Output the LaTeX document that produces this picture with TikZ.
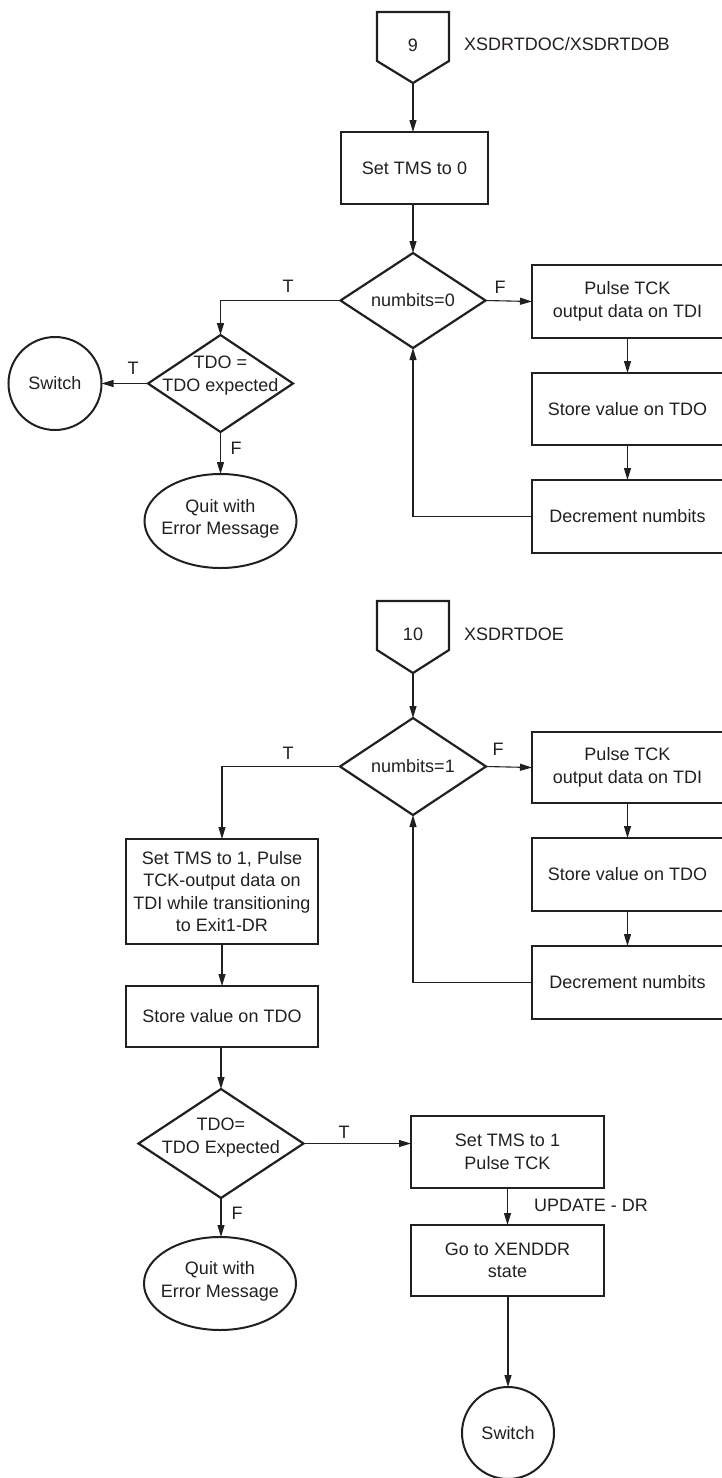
\documentclass[tikz,border=0pt]{standalone}
\usepackage{fontspec}
\setmainfont{Liberation Sans}
\usetikzlibrary{shapes.geometric,arrows.meta,calc}
\definecolor{ink}{RGB}{35,31,32}
\begin{document}
\begin{tikzpicture}[x=1pt,y=-1pt,
  every node/.style={font=\fontsize{18}{22.5}\selectfont, text=ink},
  procbox/.style={draw=ink, line width=2.2pt, rectangle, inner sep=0pt, outer sep=0pt, align=center},
  decide/.style={draw=ink, line width=2.2pt, diamond, inner sep=0pt, outer sep=0pt},
  term/.style={draw=ink, line width=2pt, ellipse, inner sep=0pt, outer sep=0pt},
  conn/.style={draw=ink, line width=2pt, circle, inner sep=0pt, outer sep=0pt},
  flow/.style={draw=ink, line width=1.1pt, -{Triangle[length=12pt,width=7pt]}},
  tag/.style={inner sep=0pt},
  pent/.style={draw=ink, line width=2.2pt, line join=miter},
]
\useasboundingbox (0,0) rectangle (722,1478);
\clip (0,0) rectangle (722,1478);

% ---------------- XSDRTDOC / XSDRTDOB ----------------
\node[tag] (p9) at (413,45) {9};
\draw[pent] (377,12) -- (449,12) -- (449,61) -- (413,83) coordinate (p9tip) -- (377,61) -- cycle;
\node[tag, anchor=west] (h9) at (464,44) {XSDRTDOC/XSDRTDOB};

\node[procbox, minimum width=147pt, minimum height=72pt] (s0) at (414.5,168) {Set TMS to 0};
\node[decide, minimum width=145pt, minimum height=95pt, label={center:numbits=0}] (d0) at (413,300.5) {};

\node[procbox, minimum width=191pt, minimum height=73pt] (pk1) at (627.5,301.5) {Pulse TCK\\output data on TDI};
\node[procbox, minimum width=191pt, minimum height=72pt] (sv1) at (627.5,409) {Store value on TDO};
\node[procbox, minimum width=191pt, minimum height=73pt] (dn1) at (627.5,516.5) {Decrement numbits};

\node[decide, minimum width=145pt, minimum height=97pt,
      label={[align=center,yshift=8pt]center:{TDO =\\TDO expected}}] (td1) at (220.5,383.5) {};
\node[conn, minimum size=93pt] (sw1) at (55,383.5) {Switch};
\node[term, minimum width=152pt, minimum height=94pt,
      label={[align=center,yshift=2pt]center:{Quit with\\Error Message}}] (q1) at (220.5,521) {};

\draw[flow] (p9tip) -- (p9tip |- s0.north);
\draw[flow] (d0.north |- s0.south) -- (d0.north);
\draw[flow] (d0.east) -- (pk1.west);
\draw[flow] (pk1.south) -- (sv1.north);
\draw[flow] (sv1.south) -- (dn1.north);
\draw[flow] (dn1.west) -| (d0.south);
\draw[flow] (d0.west) -| (td1.north);
\draw[flow] (td1.west) -- (sw1.east);
\draw[flow] (td1.south) -- (q1.north);

\node[tag] (lt1) at (288,286) {T};
\node[tag] (lf1) at (500,287) {F};
\node[tag] (lt2) at (133,368) {T};
\node[tag] (lf2) at (236,448) {F};

% ---------------- XSDRTDOE ----------------
\node[tag] (p10) at (413,634) {10};
\draw[pent] (377,601) -- (449,601) -- (449,650) -- (413,673) coordinate (p10tip) -- (377,650) -- cycle;
\node[tag, anchor=west] (h10) at (464,634) {XSDRTDOE};

\node[decide, minimum width=146pt, minimum height=97pt, label={center:numbits=1}] (d1) at (413,766.5) {};

\node[procbox, minimum width=191pt, minimum height=71pt] (pk2) at (627.5,767.5) {Pulse TCK\\output data on TDI};
\node[procbox, minimum width=191pt, minimum height=73pt] (sv2) at (627.5,874.5) {Store value on TDO};
\node[procbox, minimum width=191pt, minimum height=73pt] (dn2) at (627.5,982.5) {Decrement numbits};

\node[procbox, minimum width=192pt, minimum height=105pt] (b1) at (222,891.5)
  {Set TMS to 1, Pulse\\TCK-output data on\\TDI while transitioning\\to Exit1-DR};
\node[procbox, minimum width=192pt, minimum height=61pt] (sv3) at (222,1016.5) {Store value on TDO};

\node[decide, minimum width=165pt, minimum height=109pt,
      label={[align=center,yshift=6pt]center:{TDO=\\TDO Expected}}] (td2) at (221,1143.5) {};
\node[term, minimum width=152pt, minimum height=93pt,
      label={[align=center,yshift=2pt]center:{Quit with\\Error Message}}] (q2) at (220,1283.5) {};

\node[procbox, minimum width=193pt, minimum height=72pt] (st1) at (507.5,1152) {Set TMS to 1\\Pulse TCK};
\node[procbox, minimum width=193pt, minimum height=71pt] (gx) at (507.5,1260.5) {Go to XENDDR\\state};
\node[conn, minimum size=92pt] (sw2) at (508,1433) {Switch};

\draw[flow] (p10tip) -- (d1.north);
\draw[flow] (d1.east) -- (pk2.west);
\draw[flow] (pk2.south) -- (sv2.north);
\draw[flow] (sv2.south) -- (dn2.north);
\draw[flow] (dn2.west) -| (d1.south);
\draw[flow] (d1.west) -| (b1.north);
\draw[flow] (b1.south) -- (sv3.north);
\draw[flow] (td2.north |- sv3.south) -- (td2.north);
\draw[flow] (td2.east) -- (st1.west |- td2.east);
\draw[flow] (td2.south) -- (q2.north -| td2.south);
\draw[flow] (st1.south) -- (gx.north);
\draw[flow] (sw2.north |- gx.south) -- (sw2.north);

\node[tag] (lt3) at (288,753) {T};
\node[tag] (lf3) at (498,749) {F};
\node[tag] (lt4) at (344,1132) {T};
\node[tag] (lf4) at (237,1213) {F};
\node[tag, anchor=west] (lup) at (534,1205) {UPDATE - DR};
\end{tikzpicture}
\end{document}
